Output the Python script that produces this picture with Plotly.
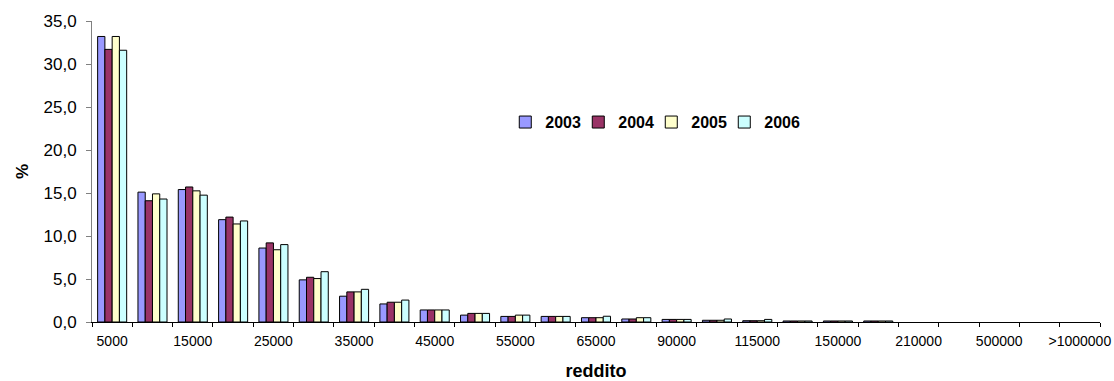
import plotly.graph_objects as go

categories = ["5000", "10000", "15000", "20000", "25000", "30000", "35000", "40000",
              "45000", "50000", "55000", "60000", "65000", "75000", "90000", "100000",
              "115000", "130000", "150000", "180000", "210000", "300000", "500000",
              "1000000", ">1000000"]
tick_labels = [c if i % 2 == 0 else "" for i, c in enumerate(categories)]

y2003 = [33.2, 15.1, 15.4, 11.9, 8.6, 4.9, 3.0, 2.1, 1.4, 0.8, 0.65, 0.65, 0.5,
         0.35, 0.3, 0.2, 0.15, 0.12, 0.12, 0.12, None, None, None, None, None]
y2004 = [31.7, 14.1, 15.7, 12.2, 9.2, 5.2, 3.5, 2.3, 1.4, 1.0, 0.65, 0.65, 0.5,
         0.35, 0.3, 0.2, 0.15, 0.12, 0.12, 0.12, None, None, None, None, None]
y2005 = [33.2, 14.9, 15.25, 11.4, 8.4, 5.05, 3.5, 2.3, 1.4, 1.0, 0.8, 0.65, 0.5,
         0.5, 0.3, 0.2, 0.15, 0.12, 0.12, 0.12, None, None, None, None, None]
y2006 = [31.6, 14.3, 14.75, 11.75, 9.0, 5.85, 3.8, 2.55, 1.4, 1.0, 0.8, 0.65, 0.67,
         0.5, 0.3, 0.35, 0.3, 0.12, 0.12, 0.12, None, None, None, None, None]

series = [("2003", y2003, "#9999FF"), ("2004", y2004, "#993366"),
          ("2005", y2005, "#FFFFCC"), ("2006", y2006, "#CCFFFF")]

FONT = "Liberation Sans, Arial, sans-serif"

fig = go.Figure()
for name, vals, color in series:
    fig.add_trace(go.Bar(x=categories, y=vals, name=name,
                         marker=dict(color=color, line=dict(color="#000000", width=1))))

# invisible spacer entry so the last legend label is not clipped
fig.add_trace(go.Scatter(x=[None], y=[None], mode="lines", name="",
                         line=dict(width=0, color="rgba(0,0,0,0)"),
                         hoverinfo="skip", showlegend=True))

fig.update_layout(
    width=1114, height=381,
    margin=dict(l=92, r=14, t=21, b=59),
    paper_bgcolor="white", plot_bgcolor="white",
    barmode="group", bargap=0.28, bargroupgap=0,
    separators=",.",
    font=dict(family=FONT, color="#000000"),
    showlegend=True,
    legend=dict(orientation="h", x=0.41, y=0.664, xanchor="left", yanchor="middle",
                font=dict(size=16, weight="bold", family=FONT),
                entrywidth=28, entrywidthmode="pixels",
                bgcolor="rgba(0,0,0,0)", traceorder="normal"),
    xaxis=dict(type="category", categoryorder="array", categoryarray=categories,
               tickmode="array", tickvals=categories, ticktext=tick_labels,
               tickson="boundaries", ticks="outside", ticklen=4, tickcolor="#000000",
               showline=True, linecolor="#000000", linewidth=1,
               showgrid=False, zeroline=False, automargin=False,
               tickfont=dict(size=14), tickangle=0, ticklabelstandoff=6,
               title=dict(text="reddito", font=dict(size=18, weight="bold"), standoff=26)),
    yaxis=dict(range=[0, 35], tickmode="linear", tick0=0, dtick=5, tickformat=".1f",
               ticks="outside", ticklen=5, tickcolor="#808080",
               showline=True, linecolor="#808080", linewidth=1,
               showgrid=False, zeroline=False, automargin=False,
               tickfont=dict(size=17), ticklabelstandoff=6,
               title=dict(text="%", font=dict(size=17, weight="bold"), standoff=10)),
)

fig.write_html("out.html")
